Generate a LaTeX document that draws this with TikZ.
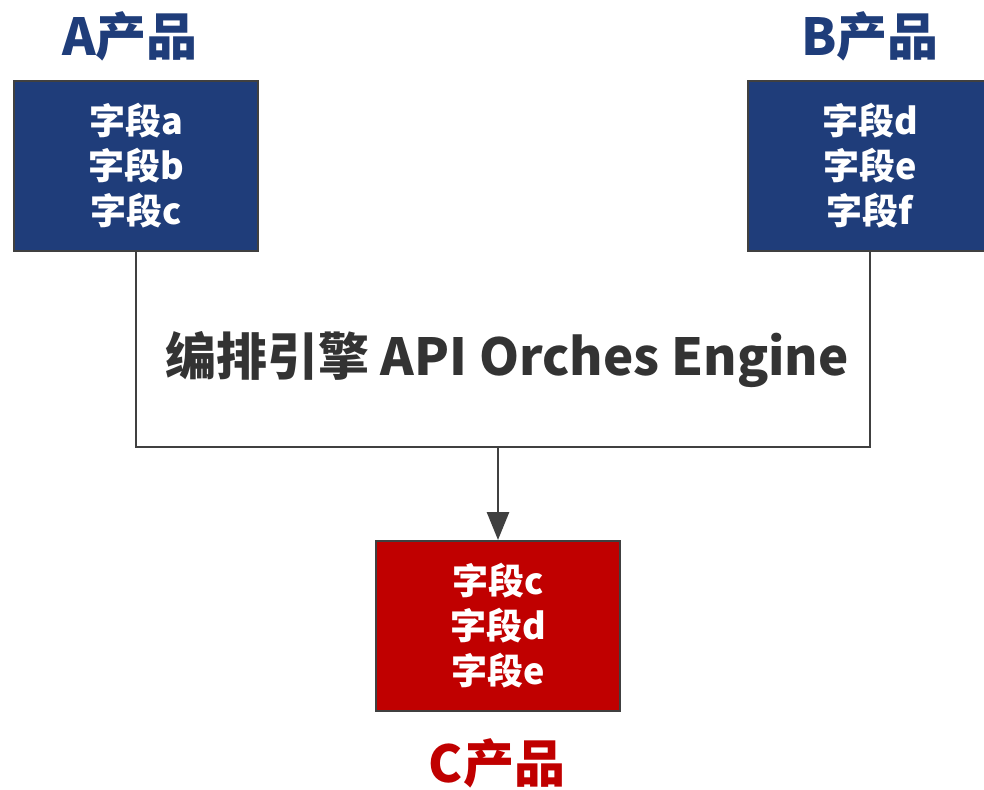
\documentclass[tikz,border=0pt]{standalone}
\usepackage{fontspec}
\setmainfont{Noto Sans CJK SC}
\usepackage{tikz}
\usetikzlibrary{arrows.meta}
\usetikzlibrary{calc}
\definecolor{prodblue}{HTML}{1F3D7A}
\definecolor{prodred}{HTML}{C00000}
\definecolor{linegray}{HTML}{404040}
\definecolor{titlegray}{HTML}{333333}

\begin{document}
\begin{tikzpicture}[x=1pt,y=-1pt]
                \useasboundingbox (0,0) rectangle (984,789);
                \begin{scope}[line width=2.8pt,
                field box/.style={rectangle,draw=linegray,line width=2pt,text=white,
                  minimum width=244pt,minimum height=170pt,align=center,
                  font=\bfseries\fontsize{36}{45}\selectfont},
                prod label/.style={font=\bfseries\fontsize{51}{56}\selectfont}]
                \node[field box,fill=prodblue] (a) at (136,166) {字段a\\字段b\\字段c};
                \node[field box,fill=prodblue] (b) at (870,166) {字段d\\字段e\\字段f};
                \node[field box,fill=prodred] (c) at (498,626) {字段c\\字段d\\字段e};
                \node[prod label,text=prodblue] (la) at (130,36) {A产品};
                \node[prod label,text=prodblue] (lb) at (870,36) {B产品};
                \node[prod label,text=prodred] (lc) at (497,763) {C产品};
                \node[text=titlegray,font=\bfseries\fontsize{51}{56}\selectfont] (engine) at (507,360) {编排引擎 API Orches Engine};
                \coordinate (join) at (498,447);
                \draw[linegray] (a.south) |- (join) -| (b.south);
                \draw[linegray,-{Triangle[length=28pt,width=22pt]}] (join) -- (c.north);
                \end{scope}
            \end{tikzpicture}
\end{document}
